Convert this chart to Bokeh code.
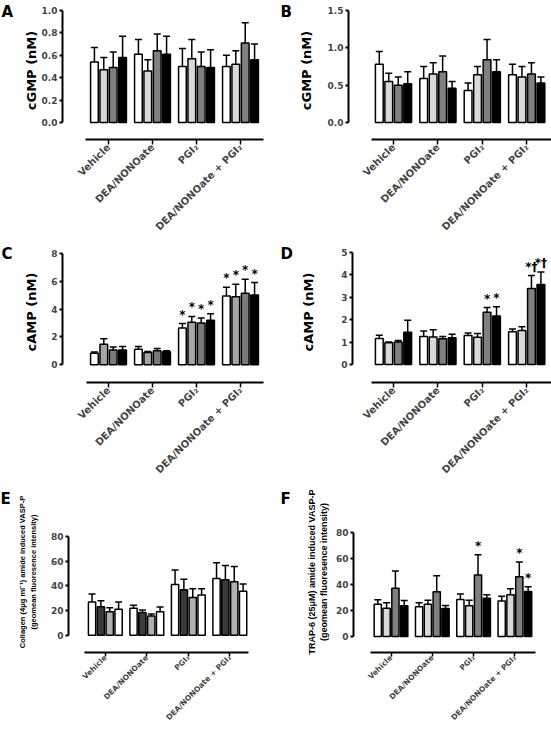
import math
from bokeh.plotting import figure
from bokeh.models import (Range1d, FixedTicker, ColumnDataSource, Whisker, TeeHead,
                          PrintfTickFormatter, LinearAxis)
from bokeh.layouts import row, column
from bokeh.embed import file_html
from bokeh.resources import INLINE
from bokeh.core.properties import value

FONT = "DejaVu Sans"
FONT2 = "Liberation Sans"

groups = ["Vehicle", "DEA/NONOate", "PGI₂", "DEA/NONOate + PGI₂"]

# ---- Panel A : cGMP (nM) ----
a_mean = [[0.54, 0.47, 0.49, 0.58], [0.61, 0.46, 0.64, 0.61],
          [0.50, 0.57, 0.50, 0.49], [0.50, 0.52, 0.71, 0.56]]
a_sem = [[0.13, 0.11, 0.14, 0.19], [0.13, 0.10, 0.15, 0.16],
         [0.16, 0.17, 0.13, 0.16], [0.10, 0.12, 0.18, 0.14]]
a_yticks = [0, 0.2, 0.4, 0.6, 0.8, 1.0]

# ---- Panel B : cGMP (nM) ----
b_mean = [[0.78, 0.55, 0.50, 0.52], [0.59, 0.65, 0.68, 0.46],
          [0.43, 0.64, 0.84, 0.68], [0.64, 0.61, 0.65, 0.53]]
b_sem = [[0.17, 0.11, 0.11, 0.16], [0.16, 0.15, 0.21, 0.09],
         [0.10, 0.11, 0.27, 0.16], [0.14, 0.14, 0.15, 0.08]]
b_yticks = [0, 0.5, 1.0, 1.5]

# ---- Panel C : cAMP (nM) ----
c_mean = [[0.82, 1.47, 1.06, 1.06], [1.10, 0.87, 0.99, 0.92],
          [2.64, 3.05, 3.00, 3.19], [4.94, 4.89, 5.13, 5.00]]
c_sem = [[0.08, 0.40, 0.20, 0.25], [0.20, 0.07, 0.17, 0.08],
         [0.31, 0.42, 0.35, 0.47], [0.62, 0.90, 1.02, 0.90]]
c_yticks = [0, 2, 4, 6, 8]
c_marks = [["", "", "", ""], ["", "", "", ""],
           ["*", "*", "*", "*"], ["*", "*", "*", "*"]]

# ---- Panel D : cAMP (nM) ----
d_mean = [[1.16, 0.97, 1.01, 1.44], [1.25, 1.23, 1.15, 1.19],
          [1.29, 1.22, 2.33, 2.17], [1.46, 1.52, 3.39, 3.57]]
d_sem = [[0.15, 0.04, 0.06, 0.53], [0.24, 0.32, 0.10, 0.16],
         [0.12, 0.16, 0.21, 0.41], [0.12, 0.16, 0.58, 0.56]]
d_yticks = [0, 1, 2, 3, 4, 5]
d_marks = [["", "", "", ""], ["", "", "", ""],
           ["", "", "*", "*"], ["", "", "*†", "*†"]]

# ---- Panel E : collagen induced VASP-P ----
e_mean = [[26.9, 23.1, 19.0, 21.0], [21.8, 18.5, 15.6, 19.0],
          [41.0, 36.9, 30.5, 32.6], [45.9, 44.9, 43.3, 35.6]]
e_sem = [[6.4, 4.8, 3.3, 5.9], [2.6, 2.0, 1.6, 3.8],
         [11.8, 8.5, 7.2, 5.1], [12.8, 11.5, 12.3, 5.9]]
e_yticks = [0, 20, 40, 60, 80]

# ---- Panel F : TRAP-6 induced VASP-P ----
f_mean = [[24.9, 21.8, 37.2, 23.6], [22.8, 24.9, 34.4, 21.5],
          [28.5, 23.6, 47.4, 29.5], [27.4, 32.1, 45.9, 34.6]]
f_sem = [[3.3, 4.1, 13.1, 4.1], [3.1, 3.0, 12.3, 2.3],
         [4.1, 4.3, 15.4, 2.6], [3.6, 4.6, 11.5, 3.6]]
f_yticks = [0, 20, 40, 60, 80]
f_marks = [["", "", "", ""], ["", "", "", ""],
           ["", "", "*", ""], ["", "", "*", "*"]]

title_cgmp = "cGMP (nM)"
title_camp = "cAMP (nM)"
title_e = "Collagen (4μg ml⁻¹) amide induced VASP-P\n(geomean fluoresence intensity)"
title_f = "TRAP-6 (25μM) amide induced VASP-P\n(geomean fluoresence intensity)"

colors_std = ["white", "#d9d9d9", "#808080", "black"]
colors_c = ["white", "#a6a6a6", "#7a7a7a", "black"]
colors_e = ["white", "#3a3a3a", "#b0b0b0", "white"]

OFFSETS = [-0.32, -0.107, 0.107, 0.32]
BAR_W = 0.175


def make_strip(letter, st):
    """Narrow figure holding only the panel letter."""
    w, h = st["sw"], st["h"]
    s = figure(width=w, height=h, x_range=Range1d(0, w), y_range=Range1d(0, h),
               output_backend="svg", toolbar_location=None,
               x_axis_location=None, y_axis_location=None,
               min_border_left=0, min_border_right=0, min_border_top=0, min_border_bottom=0)
    s.outline_line_color = None
    s.grid.visible = False
    lx, ly = st["letter"]
    s.text(x=[lx], y=[h - ly], text=[letter], text_font=value(FONT),
           text_font_style="bold", text_font_size="15px", text_align="left",
           text_baseline="top", text_color="black")
    return s


def make_panel(ylabel, means, sems, colors, yticks, yfmt, marks, lay):
    w, h = lay["w"], lay["h"]
    fl, fr, ft, yt, zero, fb = lay["fl"], lay["fr"], 1, lay["yt"], lay["zero"], lay["fb"]
    c0, step = lay["c0"], lay["step"]
    ymax = yticks[-1]
    ppu = (zero - yt) / ymax
    y_start = -(fb - zero) / ppu
    y_end = ymax + (yt - ft) / ppu
    x_start = (fl - c0) / step
    x_end = (fr - c0) / step
    p = figure(width=w, height=h, x_range=Range1d(x_start, x_end),
               y_range=Range1d(y_start, y_end), output_backend="svg",
               toolbar_location=None, min_border_left=fl, min_border_right=w - fr,
               min_border_top=ft, min_border_bottom=h - fb)
    p.outline_line_color = None
    p.xgrid.visible = False
    p.ygrid.visible = False

    xs, tops, uppers, cols = [], [], [], []
    for gi, (gm, gs) in enumerate(zip(means, sems)):
        for si, (m, s) in enumerate(zip(gm, gs)):
            xs.append(gi + OFFSETS[si])
            tops.append(m)
            uppers.append(m + s)
            cols.append(colors[si])
    src = ColumnDataSource(dict(x=xs, top=tops, upper=uppers, color=cols))
    p.vbar(x="x", top="top", bottom=0, width=BAR_W, fill_color="color",
           line_color="black", line_width=1.5, source=src)
    p.add_layout(Whisker(source=src, base="x", lower="top", upper="upper",
                         dimension="height", line_width=1.5, line_color="black",
                         upper_head=TeeHead(size=7, line_width=1.5, line_color="black"),
                         lower_head=None))

    if marks:
        mx, my, mt = [], [], []
        for gi, gmarks in enumerate(marks):
            for si, t in enumerate(gmarks):
                if t:
                    mx.append(gi + OFFSETS[si])
                    my.append(means[gi][si] + sems[gi][si])
                    mt.append(t)
        msrc = ColumnDataSource(dict(x=mx, y=my, t=mt))
        p.text(x="x", y="y", text="t", source=msrc, text_font=value(FONT),
               text_font_style="bold", text_font_size="12px", text_align="center",
               text_baseline="middle", y_offset=-9, text_color="black")

    yax = p.yaxis[0]
    yax.ticker = FixedTicker(ticks=yticks)
    yax.formatter = PrintfTickFormatter(format=yfmt)
    yax.bounds = (0, ymax)
    yax.axis_line_width = 2
    yax.major_tick_line_width = 2
    yax.major_tick_out = 3
    yax.major_tick_in = 0
    yax.minor_tick_out = 0
    yax.minor_tick_in = 0
    yax.major_label_text_font = FONT
    yax.major_label_text_font_style = "bold"
    yax.major_label_text_font_size = "9px"
    yax.major_label_standoff = 2

    # outer, line-less axis carrying the y title
    yc = ymax + (yt - lay["tc"]) / ppu
    d = 0.002 * ymax
    tax = LinearAxis(ticker=FixedTicker(ticks=[]), bounds=(yc - d, yc + d),
                     axis_line_color=None, major_tick_line_color=None,
                     minor_tick_line_color=None, major_tick_out=0, major_tick_in=0,
                     minor_tick_out=0, minor_tick_in=0, major_label_standoff=0,
                     axis_label=ylabel, axis_label_standoff=lay["tst"],
                     axis_label_text_font=lay["tfont"], axis_label_text_font_style="bold",
                     axis_label_text_font_size=lay["tsize"], axis_label_text_color="black")
    p.add_layout(tax, "left")

    xax = p.xaxis[0]
    xax.ticker = FixedTicker(ticks=list(range(len(groups))))
    xax.major_label_overrides = {i: g for i, g in enumerate(groups)}
    xax.major_label_orientation = math.pi / 4
    xax.bounds = lay["xb"]
    xax.axis_line_width = 2
    xax.major_tick_line_width = 1.5
    xax.major_tick_out = lay.get("tko", 5)
    xax.major_tick_in = 0
    xax.minor_tick_out = 0
    xax.minor_tick_in = 0
    xax.major_label_text_font = FONT
    xax.major_label_text_font_style = "bold"
    xax.major_label_text_font_size = lay["csize"]
    xax.major_label_standoff = lay.get("cst", 1)
    return p


# main panels (pixel geometry inside each figure)
LAY_A = dict(w=266, h=240, fl=48, fr=262, yt=10, zero=122, fb=139, c0=94, step=44.0,
             xb=(-0.52, 3.52), csize="10px", tc=54, tst=0, tfont=FONT, tsize="13px")
LAY_B = dict(w=257, h=240, fl=54, fr=257, yt=10, zero=122, fb=139, c0=99, step=44.4,
             xb=(-0.5, 4.0), csize="10px", tc=60, tst=11, tfont=FONT, tsize="13px")
LAY_C = dict(w=266, h=250, fl=48, fr=262, yt=13, zero=125, fb=143, c0=94, step=44.0,
             xb=(-0.5, 3.52), csize="10px", tc=70, tst=10, tfont=FONT, tsize="13px")
LAY_D = dict(w=257, h=250, fl=58, fr=257, yt=12, zero=124, fb=142, c0=99, step=44.4,
             xb=(-0.5, 4.0), csize="10px", tc=67.5, tst=23, tfont=FONT, tsize="13px")
LAY_E = dict(w=266, h=246, fl=53, fr=262, yt=48, zero=152, fb=170, c0=90, step=41.7,
             xb=(-0.5, 3.45), csize="7.5px", tko=4, cst=0, tc=82, tst=10,
             tfont=FONT2, tsize="7.5px")
LAY_F = dict(w=257, h=246, fl=59, fr=257, yt=42, zero=146, fb=162, c0=96.5, step=41.3,
             xb=(-0.5, 3.5), csize="7.5px", tko=4, cst=0, tc=75, tst=4,
             tfont=FONT2, tsize="9px")

# letter strips
ST_A = dict(sw=14, h=240, letter=(1, 2))
ST_B = dict(sw=14, h=240, letter=(0, 2))
ST_C = dict(sw=14, h=250, letter=(1, 6))
ST_D = dict(sw=14, h=250, letter=(0, 6))
ST_E = dict(sw=14, h=246, letter=(0, -3))
ST_F = dict(sw=14, h=246, letter=(0, -3))

sA = make_strip("A", ST_A)
pA = make_panel(title_cgmp, a_mean, a_sem, colors_std, a_yticks, "%.1f", None, LAY_A)
sB = make_strip("B", ST_B)
pB = make_panel(title_cgmp, b_mean, b_sem, colors_std, b_yticks, "%.1f", None, LAY_B)
sC = make_strip("C", ST_C)
pC = make_panel(title_camp, c_mean, c_sem, colors_c, c_yticks, "%d", c_marks, LAY_C)
sD = make_strip("D", ST_D)
pD = make_panel(title_camp, d_mean, d_sem, colors_std, d_yticks, "%d", d_marks, LAY_D)
sE = make_strip("E", ST_E)
pE = make_panel(title_e, e_mean, e_sem, colors_e, e_yticks, "%d", None, LAY_E)
sF = make_strip("F", ST_F)
pF = make_panel(title_f, f_mean, f_sem, colors_std, f_yticks, "%d", f_marks, LAY_F)

layout = column(row(sA, pA, sB, pB), row(sC, pC, sD, pD), row(sE, pE, sF, pF))

open("out.html", "w").write(file_html(layout, INLINE))
